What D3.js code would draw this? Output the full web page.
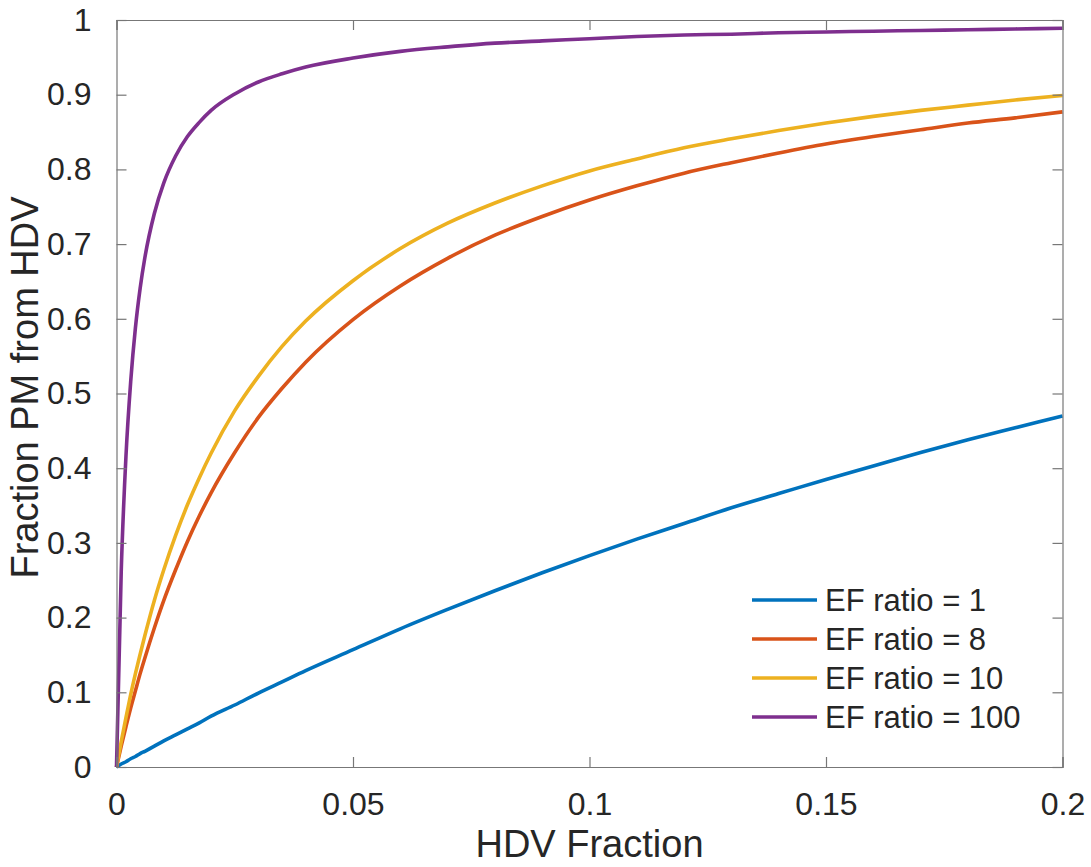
<!DOCTYPE html>
<html>
<head>
<meta charset="utf-8">
<script src="https://cdn.jsdelivr.net/npm/d3@7"></script>
<style>
	body { margin: 0; background: #fff; }
	text { font-family: "Liberation Sans", Arial, Helvetica, sans-serif; fill: #262626; }
</style>
</head>
<body>
<div id="chart"></div>
<script>
var hdvFraction = [0, 0.001, 0.002, 0.003, 0.004, 0.005, 0.006, 0.008, 0.01, 0.0125, 0.015, 0.0175, 0.02, 0.025, 0.03, 0.035, 0.04,
	0.05, 0.06, 0.07, 0.08, 0.09, 0.1, 0.11, 0.12, 0.13, 0.14, 0.15, 0.16, 0.17, 0.18, 0.19, 0.2];

var ef1 = [0, 0.004, 0.007, 0.011, 0.014, 0.018, 0.021, 0.028, 0.035, 0.043, 0.051, 0.059, 0.068, 0.083, 0.099, 0.114, 0.129,
	0.157, 0.185, 0.211, 0.236, 0.260, 0.283, 0.305, 0.326, 0.347, 0.366, 0.385, 0.403, 0.421, 0.438, 0.454, 0.470];
var ef8 = [0, 0.028, 0.054, 0.079, 0.102, 0.125, 0.146, 0.186, 0.223, 0.264, 0.302, 0.336, 0.367, 0.421, 0.468, 0.507, 0.542,
	0.599, 0.644, 0.681, 0.712, 0.737, 0.759, 0.778, 0.795, 0.809, 0.822, 0.834, 0.844, 0.853, 0.862, 0.869, 0.877];
var ef10 = [0, 0.034, 0.066, 0.097, 0.125, 0.151, 0.176, 0.223, 0.264, 0.310, 0.351, 0.387, 0.420, 0.477, 0.523, 0.563, 0.597,
	0.651, 0.694, 0.728, 0.755, 0.778, 0.798, 0.814, 0.829, 0.841, 0.852, 0.862, 0.871, 0.879, 0.886, 0.893, 0.899];
var ef100 = [0, 0.262, 0.416, 0.516, 0.588, 0.641, 0.682, 0.741, 0.782, 0.818, 0.844, 0.863, 0.879, 0.901, 0.917, 0.928, 0.937,
	0.949, 0.958, 0.964, 0.969, 0.972, 0.975, 0.978, 0.980, 0.981, 0.983, 0.984, 0.985, 0.986, 0.987, 0.988, 0.989];

var seriesNames = ["EF ratio = 1", "EF ratio = 8", "EF ratio = 10", "EF ratio = 100"];
var seriesValues = [ef1, ef8, ef10, ef100];
var colors = ["#0072BD", "#D95319", "#EDB120", "#7E2F8E"];

var xTicks = [0, 0.05, 0.1, 0.15, 0.2];
var xTickLabels = ["0", "0.05", "0.1", "0.15", "0.2"];
var yTicks = [0, 0.1, 0.2, 0.3, 0.4, 0.5, 0.6, 0.7, 0.8, 0.9, 1];
var yTickLabels = ["0", "0.1", "0.2", "0.3", "0.4", "0.5", "0.6", "0.7", "0.8", "0.9", "1"];

var W = 1091, H = 867;
var margin = {top: 20, right: 28.5, bottom: 100, left: 116.5},
	width = W - margin.left - margin.right,
	height = H - margin.top - margin.bottom;

var x = d3.scaleLinear().domain([0, 0.2]).range([0, width]);
var y = d3.scaleLinear().domain([0, 1]).range([height, 0]);

var svg = d3.select("#chart").append("svg")
	.attr("width", W)
	.attr("height", H);

var g = svg.append("g")
	.attr("transform", "translate(" + margin.left + "," + margin.top + ")");

// curves
var line = d3.line()
	.x(function(d) { return x(d[0]); })
	.y(function(d) { return y(d[1]); })
	.curve(d3.curveMonotoneX);

g.selectAll(".curve")
	.data(seriesValues)
	.enter().append("path")
	.attr("class", "curve")
	.attr("fill", "none")
	.attr("stroke", function(d, i) { return colors[i]; })
	.attr("stroke-width", 3.6)
	.attr("d", function(d) { return line(d.map(function(v, j) { return [hdvFraction[j], v]; })); });

// axes, ticks inward on all four sides
var tickLen = 10;
var axisColor = "#777";

g.append("g")
	.attr("class", "axis axis--x")
	.attr("transform", "translate(0," + height + ")")
	.call(d3.axisBottom(x).tickValues(xTicks).tickSize(-tickLen).tickPadding(tickLen + 15)
		.tickFormat(function(d, i) { return xTickLabels[i]; }));

g.append("g")
	.attr("class", "axis axis--x2")
	.call(d3.axisTop(x).tickValues(xTicks).tickSize(-tickLen).tickFormat(""));

g.append("g")
	.attr("class", "axis axis--y")
	.call(d3.axisLeft(y).tickValues(yTicks).tickSize(-tickLen).tickPadding(tickLen + 15)
		.tickFormat(function(d, i) { return yTickLabels[i]; }));

g.append("g")
	.attr("class", "axis axis--y2")
	.attr("transform", "translate(" + width + ",0)")
	.call(d3.axisRight(y).tickValues(yTicks).tickSize(-tickLen).tickFormat(""));

g.selectAll(".axis path, .axis line")
	.attr("stroke", axisColor)
	.attr("stroke-width", 1.2);
g.selectAll(".axis text")
	.attr("fill", "#262626")
	.style("font-size", "32px")
	.style("font-family", "'Liberation Sans', Arial, sans-serif");

// axis labels
svg.append("text")
	.attr("x", margin.left + width / 2)
	.attr("y", 857)
	.attr("text-anchor", "middle")
	.style("font-size", "38px")
	.text("HDV Fraction");

svg.append("text")
	.attr("transform", "translate(38," + (margin.top + height / 2 - 6) + ") rotate(-90)")
	.attr("text-anchor", "middle")
	.style("font-size", "38px")
	.text("Fraction PM from HDV");

// legend
var legend = svg.append("g")
	.attr("transform", "translate(752,600)");

var row = legend.selectAll(".row")
	.data(seriesNames)
	.enter().append("g")
	.attr("class", "row")
	.attr("transform", function(d, i) { return "translate(0," + (i * 39) + ")"; });

row.append("line")
	.attr("x1", 0)
	.attr("x2", 65)
	.attr("stroke", function(d, i) { return colors[i]; })
	.attr("stroke-width", 3.6);

row.append("text")
	.attr("x", 73)
	.attr("y", 11)
	.style("font-size", "31px")
	.text(function(d) { return d; });
</script>
</body>
</html>
